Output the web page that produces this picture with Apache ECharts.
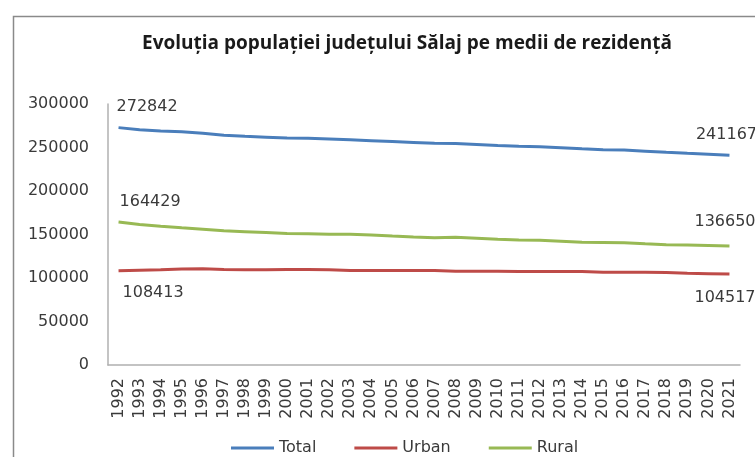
<!DOCTYPE html>
<html>
<head>
<meta charset="utf-8">
<script src="https://cdn.jsdelivr.net/npm/echarts@6/dist/echarts.min.js"></script>
<style>
html,body{margin:0;padding:0;background:#fff;}
#c{width:755px;height:457px;}
</style>
</head>
<body>
<div id="c"></div>
<script>
const titleText = 'Evoluția populației județului Sălaj pe medii de rezidență';
const years = ['1992','1993','1994','1995','1996','1997','1998','1999','2000','2001','2002','2003','2004','2005','2006','2007','2008','2009','2010','2011','2012','2013','2014','2015','2016','2017','2018','2019','2020','2021'];
const totalValues = [272842,270500,269100,268000,266500,264000,262800,261800,260800,260500,259800,258800,257800,256800,255800,254800,254500,253500,252300,251300,250900,249800,248500,247300,247000,245800,244500,243300,242300,241167];
const urbanValues = [108413,109000,109600,110300,110500,109700,109500,109600,109700,109700,109600,108600,108500,108600,108600,108500,107800,107700,107700,107600,107600,107500,107400,106500,106600,106500,106200,105400,105000,104517];
const ruralValues = [164429,161500,159500,157700,156000,154300,153300,152200,151100,150800,150200,150200,149300,148200,147200,146300,146700,145800,144600,143700,143300,142300,141100,140800,140400,139300,138300,137900,137300,136650];
const seriesNames = ['Total','Urban','Rural'];
const yTicks = [0,50000,100000,150000,200000,250000,300000];

const FONT = 'DejaVu Sans';
const labelStyle = {show:true, color:'#3a3a3a', fontFamily:FONT, fontSize:16, formatter:(p)=>String(p.value)};

function withEndLabels(values, firstLabel, lastLabel){
  return values.map((v,i)=>{
    if(i===0) return {value:v, label:Object.assign({}, labelStyle, firstLabel)};
    if(i===values.length-1) return {value:v, label:Object.assign({}, labelStyle, lastLabel)};
    return v;
  });
}

const chart = echarts.init(document.getElementById('c'), null, {renderer:'canvas'});
chart.setOption({
  animation:false,
  backgroundColor:'#ffffff',
  graphic:[{
    type:'rect', left:11, top:14, silent:true,
    shape:{x:0,y:0,width:800,height:500},
    style:{fill:'none', stroke:'#8a8a8a', lineWidth:1.5}
  }],
  title:{
    text:titleText, left:402, top:29, textAlign:'center',
    textStyle:{fontFamily:'Open Sans', fontWeight:'bold', fontSize:19, color:'#1a1a1a'}
  },
  legend:{
    data:seriesNames, left:226, top:435, itemGap:38, itemWidth:43, itemHeight:3,
    icon:'rect',
    textStyle:{fontFamily:FONT, fontSize:16, color:'#3a3a3a'}
  },
  grid:{left:108, right:15, top:104, bottom:92, containLabel:false},
  xAxis:{
    type:'category', data:years, boundaryGap:true,
    axisLine:{lineStyle:{color:'#b0b0b0', width:1.5}},
    axisTick:{show:false},
    axisLabel:{rotate:90, interval:0, margin:13, color:'#3a3a3a', fontFamily:FONT, fontSize:16}
  },
  yAxis:{
    type:'value', min:yTicks[0], max:yTicks[yTicks.length-1], interval:50000,
    axisLine:{show:true, lineStyle:{color:'#b0b0b0', width:1.5}},
    axisTick:{show:false},
    splitLine:{show:false},
    axisLabel:{margin:19, color:'#3a3a3a', fontFamily:FONT, fontSize:16, formatter:(v)=>String(v)}
  },
  series:[
    {name:'Total', type:'line', showSymbol:true, symbol:'circle', symbolSize:0.01, color:'#4A7EBB',
     lineStyle:{width:3, color:'#4A7EBB'},
     data:withEndLabels(totalValues,
       {position:'top', align:'left', offset:[-2,0], distance:13},
       {position:'top', distance:12, offset:[-3,0]})},
    {name:'Urban', type:'line', showSymbol:true, symbol:'circle', symbolSize:0.01, color:'#BE4B48',
     lineStyle:{width:3, color:'#BE4B48'},
     data:withEndLabels(urbanValues,
       {position:'bottom', align:'left', offset:[4,0], distance:14},
       {position:'bottom', align:'left', offset:[-35,0], distance:16})},
    {name:'Rural', type:'line', showSymbol:true, symbol:'circle', symbolSize:0.01, color:'#98B954',
     lineStyle:{width:3, color:'#98B954'},
     data:withEndLabels(ruralValues,
       {position:'top', align:'left', offset:[1,0], distance:12},
       {position:'top', align:'left', offset:[-35,0], distance:16})}
  ]
});
</script>
</body>
</html>
